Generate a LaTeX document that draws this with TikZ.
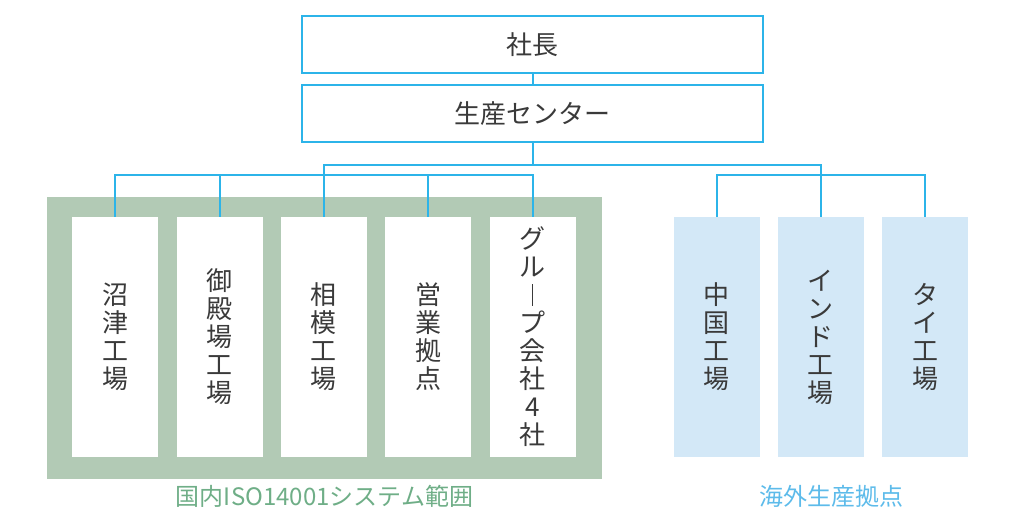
\documentclass[tikz,border=0pt]{standalone}
\usepackage{fontspec}
\newfontfamily\jpfont{Noto Sans CJK JP}
\usepackage{tikz}
\definecolor{linecyan}{HTML}{2CB4E9}
\definecolor{isogreen}{HTML}{B2CAB5}
\definecolor{paleblue}{HTML}{D3E8F7}
\definecolor{inkgray}{HTML}{3A3A3A}
\definecolor{labelgreen}{HTML}{6FAE87}
\definecolor{labelblue}{HTML}{5DBBEA}
% long vowel mark as written in vertical text
\newcommand{\vchoon}{\rule[-0.04em]{0.07em}{0.84em}}
\tikzset{
	headbox/.style={draw=linecyan, line width=2pt, fill=white, minimum width=461pt,
		minimum height=57pt, text=inkgray, font=\jpfont\fontsize{26}{28}\selectfont},
	sitebox/.style={minimum width=86pt, minimum height=240pt, inner sep=0pt, align=center,
		text=inkgray, font=\jpfont\fontsize{26}{28}\selectfont},
	link/.style={draw=linecyan, line width=2pt}
}

\begin{document}
\begin{tikzpicture}[x=1pt, y=-1pt]
	\useasboundingbox (0,0) rectangle (1033,521);

	\node[headbox] (shacho) at (532.5,44.5) {社長};
	\node[headbox] (center) at (532.5,114) {生産センター};

	% domestic sites
	\fill[isogreen] (47,197) rectangle (602,479);
	\foreach \name/\x/\txt in {numazu/115/沼\\津\\工\\場, gotemba/219.5/御\\殿\\場\\工\\場,
		sagami/323.5/相\\模\\工\\場, eigyo/428/営\\業\\拠\\点,
		group/532.5/グ\\ル\\\vchoon\\プ\\会\\社\\4\\社} {
		\node[sitebox, fill=white] (\name) at (\x,337) {\txt};
	}

	% overseas sites
	\foreach \name/\x/\txt in {china/716.5/中\\国\\工\\場, india/820.5/イ\\ン\\ド\\工\\場,
		thai/925/タ\\イ\\工\\場} {
		\node[sitebox, fill=paleblue] (\name) at (\x,337) {\txt};
	}

	\node[text=labelgreen, font=\jpfont\fontsize{24}{28}\selectfont] (isolabel) at (324.5,496) {国内ISO14001システム範囲};
	\node[text=labelblue, font=\jpfont\fontsize{24}{28}\selectfont] (overlabel) at (831,496) {海外生産拠点};

	% connectors
	\draw[link] (shacho) -- (center);
	\draw[link] (center.south) -- ++(0,22) -| (sagami.north);
	\draw[link] (center.south) -- ++(0,22) -| (india.north);
	\draw[link] (numazu.north) -- ++(0,-42) -| (group.north);
	\foreach \n in {gotemba,eigyo} {
		\draw[link] (\n.north) -- ++(0,-42);
	}
	\draw[link] (china.north) -- ++(0,-42) -| (thai.north);
\end{tikzpicture}
\end{document}
